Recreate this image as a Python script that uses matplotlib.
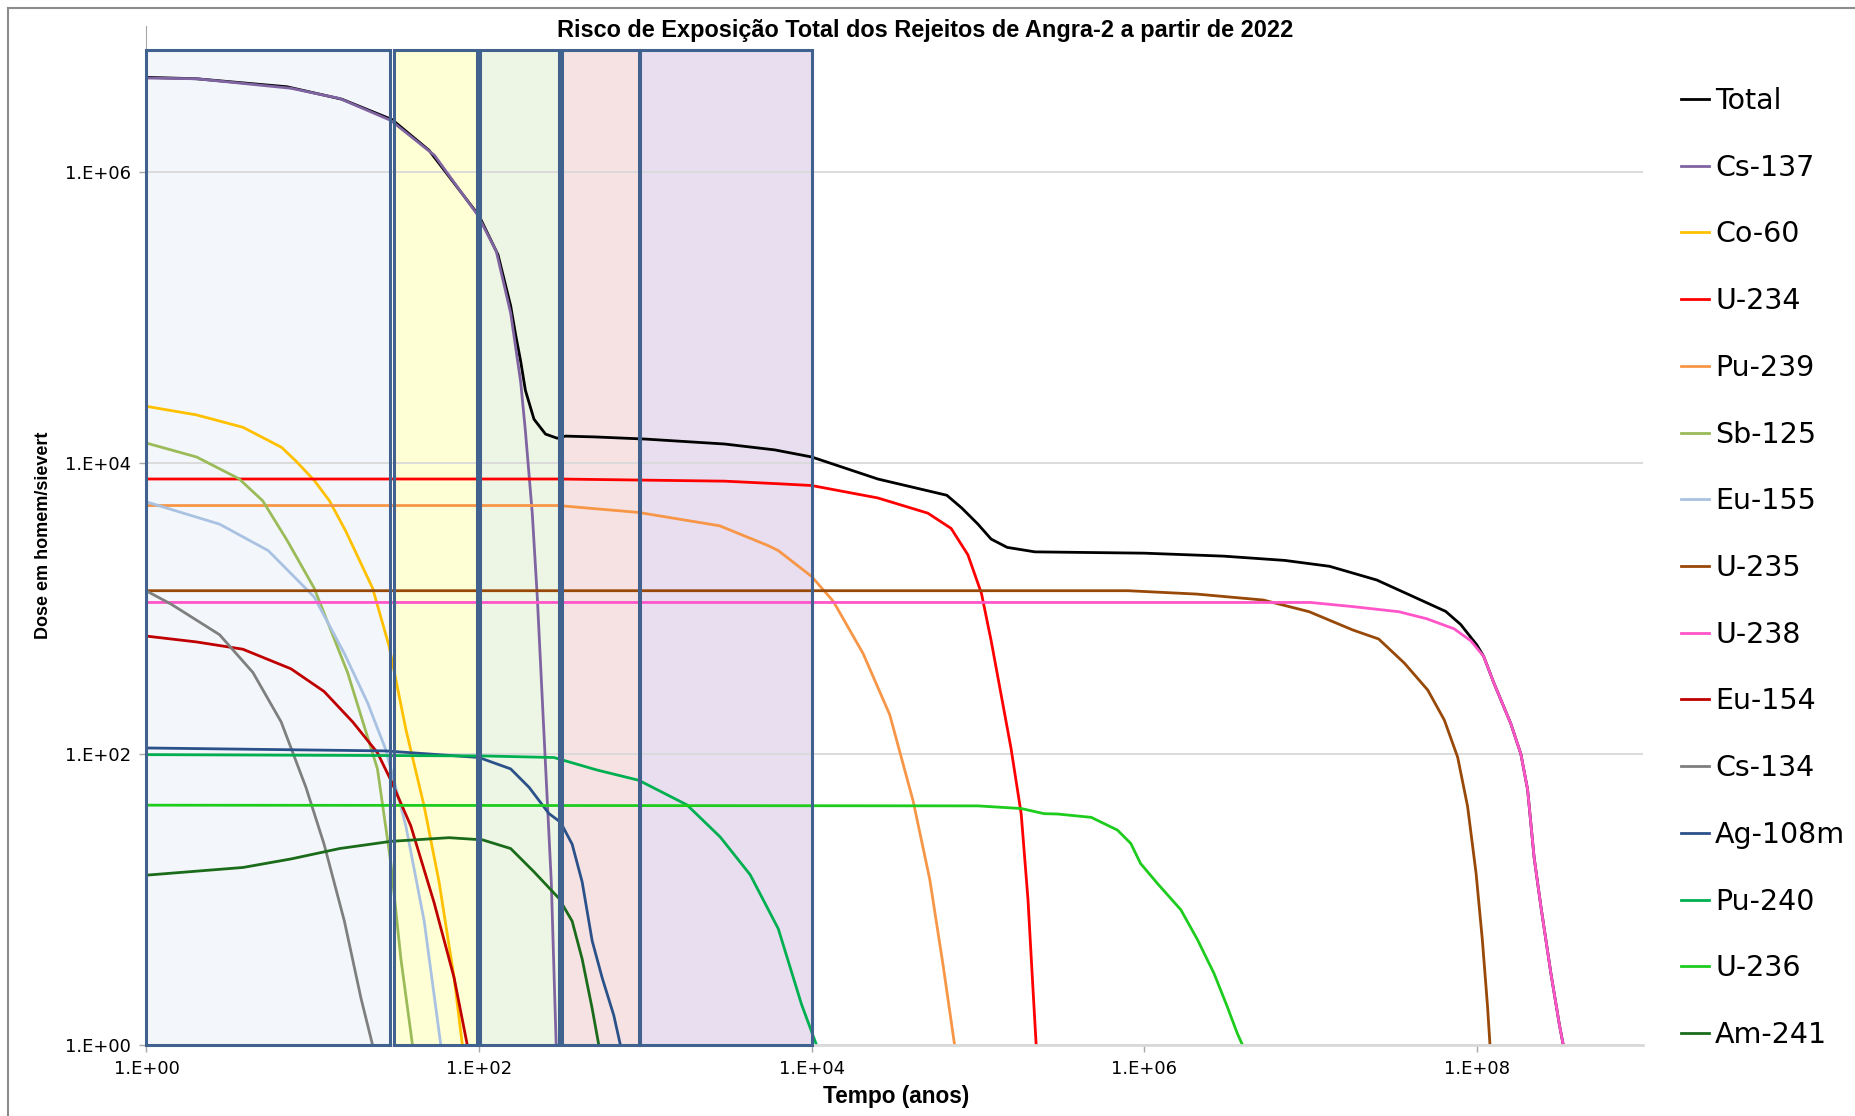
import matplotlib.pyplot as plt
from matplotlib.lines import Line2D
from matplotlib.patches import Rectangle
from matplotlib.ticker import FuncFormatter, NullLocator
import numpy as np

# Dose (homem-sievert) against time (anos) for each radionuclide
total_t = [1, 2, 7, 15, 30, 50, 100, 130, 155, 166, 178, 190, 214, 251, 295, 331, 500, 1000,
           3000, 6000, 1e4, 2.5e4, 6.5e4, 8e4, 1e5, 1.2e5, 1.5e5, 2.2e5, 1e6, 3e6, 7e6, 1.3e7,
           2.5e7, 4e7, 6.5e7, 8e7, 1e8, 1.1e8, 1.27e8, 1.6e8, 1.84e8, 2.02e8, 2.21e8, 2.43e8,
           2.79e8, 3.13e8, 3.31e8]
total_d = [4.47e6, 4.37e6, 3.85e6, 3.16e6, 2.29e6, 1.41e6, 5.0e5, 2.7e5, 1.2e5, 7.6e4, 5.0e4,
           3.16e4, 2.0e4, 1.58e4, 1.48e4, 1.53e4, 1.51e4, 1.46e4, 1.35e4, 1.23e4, 1.10e4, 7.76e3,
           6.0e3, 4.9e3, 3.8e3, 3.0e3, 2.63e3, 2.45e3, 2.40e3, 2.29e3, 2.14e3, 1.95e3, 1.57e3,
           1.23e3, 955, 776, 562, 468, 305, 162, 100, 57, 19.5, 8.9, 3.1, 1.4, 1.0]

cs137_t = [1, 2, 7.4, 14.5, 29.5, 54, 98, 127, 155, 178, 190, 209, 224, 245, 272, 291]
cs137_d = [4.42e6, 4.37e6, 3.76e6, 3.2e6, 2.26e6, 1.3e6, 5.07e5, 2.85e5, 1.07e5, 3.6e4, 1.66e4,
           4.5e3, 1.2e3, 148, 13.2, 1.0]

co60_t = [1, 2, 3.8, 6.5, 8, 10.2, 12.6, 15.8, 22.9, 28.8, 36.3, 46.8, 57.5, 70.8, 79.4]
co60_d = [2.45e4, 2.14e4, 1.76e4, 1.28e4, 1.02e4, 7.6e3, 5.5e3, 3.4e3, 1.38e3, 550, 148, 43.6,
          13.2, 2.9, 1.0]

u234_t = [1, 300, 3000, 6300, 1e4, 2.5e4, 5e4, 6.9e4, 8.7e4, 1.05e5, 1.2e5, 1.58e5, 1.82e5,
          2.0e5, 2.14e5, 2.24e5]
u234_d = [7760, 7760, 7500, 7200, 7000, 5750, 4520, 3550, 2340, 1270, 603, 110, 38.9, 10, 2.5, 1.0]

pu239_t = [1, 300, 912, 2800, 5500, 6300, 1e4, 1.35e4, 2.04e4, 2.95e4, 4.07e4, 5.13e4, 6.17e4, 7.24e4]
pu239_d = [5100, 5100, 4570, 3700, 2700, 2500, 1660, 1120, 490, 186, 47.9, 13.8, 3.55, 1.0]

sb125_t = [1, 2, 3.6, 5.0, 7, 10.2, 16.2, 24.5, 29.5, 33.9, 39.8]
sb125_d = [1.37e4, 1.1e4, 7.8e3, 5.5e3, 2.95e3, 1.38e3, 363, 79, 17.8, 3.9, 1.0]

eu155_t = [1, 2.75, 5.4, 10.2, 15.5, 21.4, 27.5, 36.3, 46.8, 58.9]
eu155_d = [5.4e3, 3.8e3, 2.5e3, 1.2e3, 490, 224, 107, 32, 7.1, 1.0]

u235_t = [1, 8e5, 2.07e6, 5.2e6, 9.8e6, 1.8e7, 2.57e7, 3.67e7, 5.07e7, 6.38e7, 7.67e7, 8.8e7,
          9.9e7, 1.08e8, 1.16e8, 1.2e8]
u235_d = [1325, 1325, 1256, 1143, 951, 711, 617, 421, 275, 171, 95, 43.6, 15.1, 5.25, 1.84, 1.0]

u238_t = [1, 1e7, 1.8e7, 3.4e7, 5e7, 7.3e7, 9.2e7, 1.1e8, 1.27e8, 1.6e8, 1.84e8, 2.02e8, 2.21e8,
          2.43e8, 2.79e8, 3.13e8, 3.31e8]
u238_d = [1100, 1100, 1030, 950, 850, 725, 600, 468, 305, 162, 100, 57, 19.5, 8.9, 3.1, 1.4, 1.0]

eu154_t = [1, 2, 3.8, 7.4, 11.7, 17.4, 24.5, 29.5, 38.9, 53.7, 70.8, 85]
eu154_d = [646, 589, 525, 385, 269, 166, 102, 66, 32, 9.5, 2.9, 1.0]

cs134_t = [1, 1.41, 2.75, 4.37, 6.46, 9.1, 11.7, 15.5, 19.5, 22.9]
cs134_d = [1320, 1070, 661, 363, 166, 59, 24, 7.1, 2.1, 1.0]

ag108m_t = [1, 27.5, 100, 155, 200, 263, 309, 363, 417, 479, 550, 646, 708]
ag108m_d = [110, 105, 94.6, 79, 59, 39, 34, 24, 13.2, 5.2, 2.9, 1.6, 1.0]

pu240_t = [1, 105, 282, 363, 513, 912, 1780, 2820, 4270, 6300, 8700, 1.07e4]
pu240_d = [99, 97, 94.6, 87, 77.6, 66, 44.7, 26.9, 14.8, 6.3, 1.9, 1.0]

u236_t = [1, 1e5, 1.82e5, 2.5e5, 3.0e5, 4.8e5, 6.9e5, 8.3e5, 9.5e5, 1.2e6, 1.66e6, 2.09e6,
          2.63e6, 3.16e6, 3.63e6, 3.9e6]
u236_d = [44.5, 44, 42.2, 38.9, 38.7, 36.7, 30, 24.3, 17.7, 12.9, 8.5, 5.3, 3.1, 1.83, 1.2, 1.0]

am241_t = [1, 3.8, 7.4, 14.5, 29.5, 66, 105, 155, 214, 302, 363, 417, 479, 525]
am241_d = [14.7, 16.6, 19, 22.4, 25.1, 26.6, 25.7, 22.4, 15.5, 10.2, 7.1, 3.9, 1.78, 1.0]

series = [
    ("Total", total_t, total_d, "#000000"),
    ("Cs-137", cs137_t, cs137_d, "#8064A2"),
    ("Co-60", co60_t, co60_d, "#FFC000"),
    ("U-234", u234_t, u234_d, "#FF0000"),
    ("Pu-239", pu239_t, pu239_d, "#F79646"),
    ("Sb-125", sb125_t, sb125_d, "#9BBB59"),
    ("Eu-155", eu155_t, eu155_d, "#A9C2E2"),
    ("U-235", u235_t, u235_d, "#984807"),
    ("U-238", u238_t, u238_d, "#FF55C8"),
    ("Eu-154", eu154_t, eu154_d, "#C00000"),
    ("Cs-134", cs134_t, cs134_d, "#7F7F7F"),
    ("Ag-108m", ag108m_t, ag108m_d, "#2A5189"),
    ("Pu-240", pu240_t, pu240_d, "#00B050"),
    ("U-236", u236_t, u236_d, "#1ECC1E"),
    ("Am-241", am241_t, am241_d, "#1A6B1A"),
]

# shaded time windows (anos)
periods = [(1, 29.2), (30.9, 97.7), (102, 302), (316, 912), (933, 1e4)]
period_colors = ["#F3F7FB", "#FFFFD6", "#EDF6E4", "#F6E2E2", "#E8DEEF"]
box_top = 6.9e6

label_font = ["Liberation Sans", "DejaVu Sans"]

fig = plt.figure(figsize=(18.56, 11.16), dpi=100)
ax = fig.add_axes([0.0789, 0.0636, 0.8064, 0.9127])
ax.set_xscale("log")
ax.set_yscale("log")
ax.set_xlim(1, 1e9)
ax.set_ylim(1, 1e7)

for (a, b), c in zip(periods, period_colors):
    ax.add_patch(Rectangle((a, 1), b - a, box_top - 1, facecolor=c, edgecolor="none", zorder=0.3))
    ax.add_patch(Rectangle((a, 1), b - a, box_top - 1, facecolor="none", edgecolor="#41628F",
                           linewidth=2.2, zorder=3, clip_on=False))

for name, t, d, c in series:
    ax.plot(t, d, color=c, linewidth=2.0, label=name, zorder=2)

ax.set_xticks([1e0, 1e2, 1e4, 1e6, 1e8])
ax.set_yticks([1e0, 1e2, 1e4, 1e6])
ax.xaxis.set_minor_locator(NullLocator())
ax.yaxis.set_minor_locator(NullLocator())
fmt = FuncFormatter(lambda v, pos: "1.E+%02d" % int(round(np.log10(v))))
ax.xaxis.set_major_formatter(fmt)
ax.yaxis.set_major_formatter(fmt)
ax.tick_params(axis="both", labelsize=13, length=5, width=1, color="#A6A6A6", pad=6)

ax.set_axisbelow(True)
ax.grid(axis="y", color="#D9D9D9", linewidth=1.3)
for side in ["top", "right"]:
    ax.spines[side].set_visible(False)
ax.spines["left"].set_color("#A6A6A6")
ax.spines["bottom"].set_color("#D9D9D9")
ax.spines["bottom"].set_linewidth(2)

leg = ax.legend(loc="upper left", bbox_to_anchor=(0.9057, 0.9221), bbox_transform=fig.transFigure,
                frameon=False, fontsize=20.5, handlelength=1.0, handletextpad=0.2,
                labelspacing=1.36, borderpad=0, borderaxespad=0)

fig.text(0.4984, 1 - 30 / 1116, "Risco de Exposição Total dos Rejeitos de Angra-2 a partir de 2022",
         ha="center", va="center", fontsize=16.9, fontweight="bold", family=label_font)
fig.text(0.4828, 1 - 1096 / 1116, "Tempo (anos)", ha="center", va="center",
         fontsize=16.3, fontweight="bold", family=label_font)
fig.text(44 / 1856, 1 - 535 / 1116, "Dose em homem/sievert", ha="center", va="center",
         rotation=90, fontsize=13, fontweight="bold", family=label_font)

# outer chart frame
fig.add_artist(Line2D([8 / 1856, 8 / 1856], [0, 1 - 8 / 1116], color="#8C8C8C", linewidth=1.5))
fig.add_artist(Line2D([8 / 1856, 1], [1 - 8 / 1116, 1 - 8 / 1116], color="#8C8C8C", linewidth=1.5))

fig.savefig("out.png", dpi=100)
